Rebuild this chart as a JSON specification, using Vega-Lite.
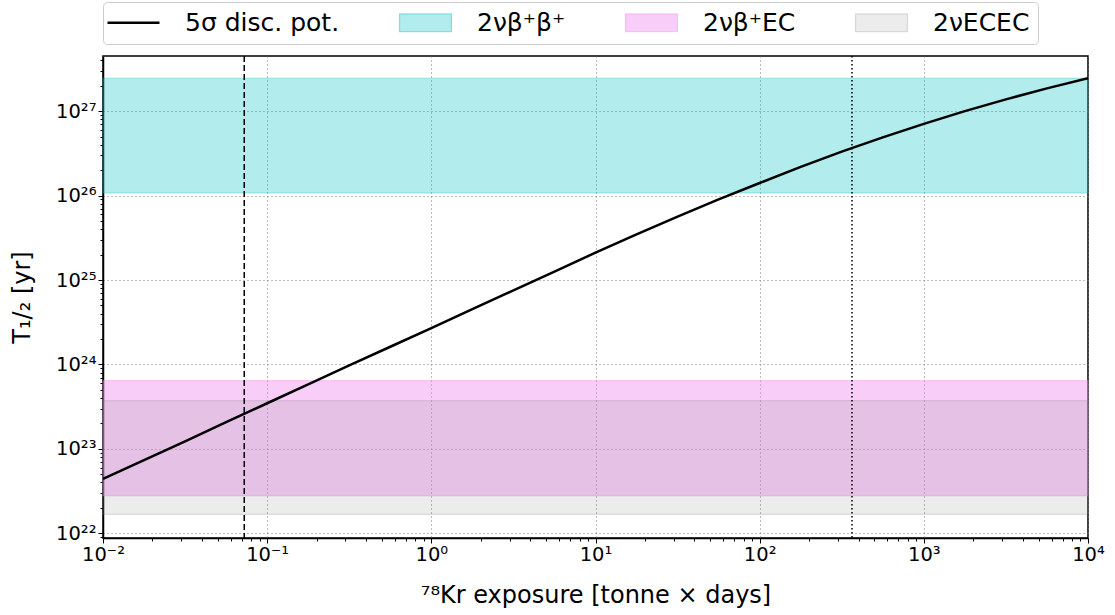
{
  "$schema": "https://vega.github.io/schema/vega-lite/v6.json",
  "width": 985,
  "height": 482,
  "autosize": "none",
  "padding": {"left": 103, "top": 56, "right": 27, "bottom": 77},
  "background": "white",
  "config": {
    "font": "DejaVu Sans",
    "view": {"stroke": "black", "strokeWidth": 1.5},
    "axis": {
      "domainColor": "black", "domainWidth": 1.5,
      "tickColor": "black", "tickWidth": 1,
      "labelFont": "DejaVu Sans", "labelFontSize": 19.5, "labelColor": "black",
      "titleFont": "DejaVu Sans", "titleFontSize": 24, "titleFontWeight": "normal", "titleColor": "black",
      "gridColor": "#777777", "gridDash": [1, 3], "gridWidth": 1,
      "labelOverlap": false, "labelFlush": false, "zindex": 1
    }
  },
  "datasets": {
    "curve": [
      {"exposure": 0.01, "T": 4.40e22},
      {"exposure": 0.01778, "T": 7.35e22},
      {"exposure": 0.03162, "T": 1.23e23},
      {"exposure": 0.05623, "T": 2.07e23},
      {"exposure": 0.1, "T": 3.47e23},
      {"exposure": 0.1778, "T": 5.79e23},
      {"exposure": 0.3162, "T": 9.72e23},
      {"exposure": 0.5623, "T": 1.62e24},
      {"exposure": 1, "T": 2.69e24},
      {"exposure": 1.778, "T": 4.52e24},
      {"exposure": 3.162, "T": 7.55e24},
      {"exposure": 5.623, "T": 1.26e25},
      {"exposure": 10, "T": 2.11e25},
      {"exposure": 17.78, "T": 3.47e25},
      {"exposure": 31.62, "T": 5.62e25},
      {"exposure": 56.23, "T": 9.02e25},
      {"exposure": 100, "T": 1.41e26},
      {"exposure": 177.8, "T": 2.19e26},
      {"exposure": 316.2, "T": 3.31e26},
      {"exposure": 562.3, "T": 4.90e26},
      {"exposure": 1000, "T": 7.08e26},
      {"exposure": 1778, "T": 1.00e27},
      {"exposure": 3162, "T": 1.38e27},
      {"exposure": 5623, "T": 1.86e27},
      {"exposure": 10000, "T": 2.45e27}
    ],
    "bands": [
      {"series": "2νβ⁺β⁺", "lo": 1.07e26, "hi": 2.46e27},
      {"series": "2νβ⁺EC", "lo": 2.78e22, "hi": 6.43e23},
      {"series": "2νECEC", "lo": 1.68e22, "hi": 3.72e23}
    ]
  },
  "layer": [
    {
      "data": {"name": "bands"},
      "transform": [{"filter": "datum.series == '2νβ⁺β⁺'"}],
      "mark": {"type": "rect", "fillOpacity": 0.3, "stroke": "#00bfbf", "strokeWidth": 1, "strokeOpacity": 0.35},
      "encoding": {
        "y": {"field": "lo", "type": "quantitative",
          "scale": {"type": "log", "domain": [8.8e21, 4.5e27], "nice": false},
          "axis": {
            "title": "T₁/₂ [yr]", "titlePadding": 21,
            "values": [9e21, 1e22, 2e22, 3e22, 4e22, 5e22, 6e22, 7e22, 8e22, 9e22, 1e23, 2e23, 3e23, 4e23, 5e23, 6e23, 7e23, 8e23, 9e23, 1e24, 2e24, 3e24, 4e24, 5e24, 6e24, 7e24, 8e24, 9e24, 1e25, 2e25, 3e25, 4e25, 5e25, 6e25, 7e25, 8e25, 9e25, 1e26, 2e26, 3e26, 4e26, 5e26, 6e26, 7e26, 8e26, 9e26, 1e27, 2e27, 3e27, 4e27],
            "labelExpr": "abs(log(datum.value)/LN10 - round(log(datum.value)/LN10)) < 0.001 ? (round(log(datum.value)/LN10) == 22 ? '10²²' : round(log(datum.value)/LN10) == 23 ? '10²³' : round(log(datum.value)/LN10) == 24 ? '10²⁴' : round(log(datum.value)/LN10) == 25 ? '10²⁵' : round(log(datum.value)/LN10) == 26 ? '10²⁶' : '10²⁷') : ''",
            "tickSize": {"condition": {"test": "abs(log(datum.value)/LN10 - round(log(datum.value)/LN10)) < 0.001", "value": 5}, "value": 3},
            "gridOpacity": {"condition": {"test": "abs(log(datum.value)/LN10 - round(log(datum.value)/LN10)) < 0.001", "value": 1}, "value": 0}
          }
        },
        "y2": {"field": "hi"},
        "color": {"field": "series", "type": "nominal",
          "scale": {"domain": ["5σ disc. pot.", "2νβ⁺β⁺", "2νβ⁺EC", "2νECEC"], "range": ["black", "#00bfbf", "#ee82ee", "#808080"]},
          "legend": {
            "orient": "none", "legendX": 0, "legendY": -54, "direction": "horizontal", "columns": 4,
            "title": null, "symbolType": "M-1,-0.34H1V0.34H-1Z", "symbolSize": 2700, "symbolOffset": 10,
            "labelFont": "DejaVu Sans", "labelFontSize": 25, "labelColor": "black", "labelOffset": 39, "columnPadding": 57,
            "strokeColor": "#cccccc", "cornerRadius": 4, "fillColor": "white", "padding": 8, "labelLimit": 400,
            "encoding": {
              "symbols": {
                "shape": {"value": {"expr": "datum.value == '5σ disc. pot.' ? 'M-1,0H1' : 'M-1,-0.34H1V0.34H-1Z'"}},
                "fill": {"value": {"expr": "datum.value == '5σ disc. pot.' ? 'transparent' : scale('color', datum.value)"}},
                "fillOpacity": {"value": {"expr": "datum.value == '2νβ⁺EC' ? 0.4 : datum.value == '2νECEC' ? 0.15 : 0.3"}},
                "stroke": {"value": {"expr": "scale('color', datum.value)"}},
                "strokeOpacity": {"value": {"expr": "datum.value == '5σ disc. pot.' ? 1 : datum.value == '2νECEC' ? 0.25 : 0.4"}},
                "strokeWidth": {"value": {"expr": "datum.value == '5σ disc. pot.' ? 2.5 : 1.2"}}
              }
            }
          }
        }
      }
    },
    {
      "data": {"name": "bands"},
      "transform": [{"filter": "datum.series == '2νβ⁺EC'"}],
      "mark": {"type": "rect", "fillOpacity": 0.4, "stroke": "#ee82ee", "strokeWidth": 1, "strokeOpacity": 0.45},
      "encoding": {
        "y": {"field": "lo", "type": "quantitative"},
        "y2": {"field": "hi"},
        "color": {"field": "series", "type": "nominal"}
      }
    },
    {
      "data": {"name": "bands"},
      "transform": [{"filter": "datum.series == '2νECEC'"}],
      "mark": {"type": "rect", "fillOpacity": 0.15, "stroke": "#808080", "strokeWidth": 1, "strokeOpacity": 0.3},
      "encoding": {
        "y": {"field": "lo", "type": "quantitative"},
        "y2": {"field": "hi"},
        "color": {"field": "series", "type": "nominal"}
      }
    },
    {
      "data": {"name": "curve"},
      "mark": {"type": "line", "strokeWidth": 2.5, "clip": true},
      "encoding": {
        "x": {"field": "exposure", "type": "quantitative",
          "scale": {"type": "log", "domain": [0.01, 10000], "nice": false},
          "axis": {
            "title": "⁷⁸Kr exposure [tonne × days]", "titlePadding": 20,
            "values": [0.01, 0.02, 0.03, 0.04, 0.05, 0.06, 0.07, 0.08, 0.09, 0.1, 0.2, 0.3, 0.4, 0.5, 0.6, 0.7, 0.8, 0.9, 1, 2, 3, 4, 5, 6, 7, 8, 9, 10, 20, 30, 40, 50, 60, 70, 80, 90, 100, 200, 300, 400, 500, 600, 700, 800, 900, 1000, 2000, 3000, 4000, 5000, 6000, 7000, 8000, 9000, 10000],
            "labelExpr": "abs(log(datum.value)/LN10 - round(log(datum.value)/LN10)) < 0.001 ? (round(log(datum.value)/LN10) == -2 ? '10⁻²' : round(log(datum.value)/LN10) == -1 ? '10⁻¹' : round(log(datum.value)/LN10) == 0 ? '10⁰' : round(log(datum.value)/LN10) == 1 ? '10¹' : round(log(datum.value)/LN10) == 2 ? '10²' : round(log(datum.value)/LN10) == 3 ? '10³' : '10⁴') : ''",
            "tickSize": {"condition": {"test": "abs(log(datum.value)/LN10 - round(log(datum.value)/LN10)) < 0.001", "value": 5}, "value": 3},
            "gridOpacity": {"condition": {"test": "abs(log(datum.value)/LN10 - round(log(datum.value)/LN10)) < 0.001", "value": 1}, "value": 0}
          }
        },
        "y": {"field": "T", "type": "quantitative"},
        "color": {"datum": "5σ disc. pot.", "type": "nominal"}
      }
    },
    {
      "data": {"values": [{"exposure": 0.0725}]},
      "mark": {"type": "rule", "color": "black", "strokeWidth": 1.5, "strokeDash": [6, 3]},
      "encoding": {"x": {"field": "exposure", "type": "quantitative"}}
    },
    {
      "data": {"values": [{"exposure": 365}]},
      "mark": {"type": "rule", "color": "black", "strokeWidth": 1.5, "strokeDash": [1.5, 2.5]},
      "encoding": {"x": {"field": "exposure", "type": "quantitative"}}
    }
  ]
}
